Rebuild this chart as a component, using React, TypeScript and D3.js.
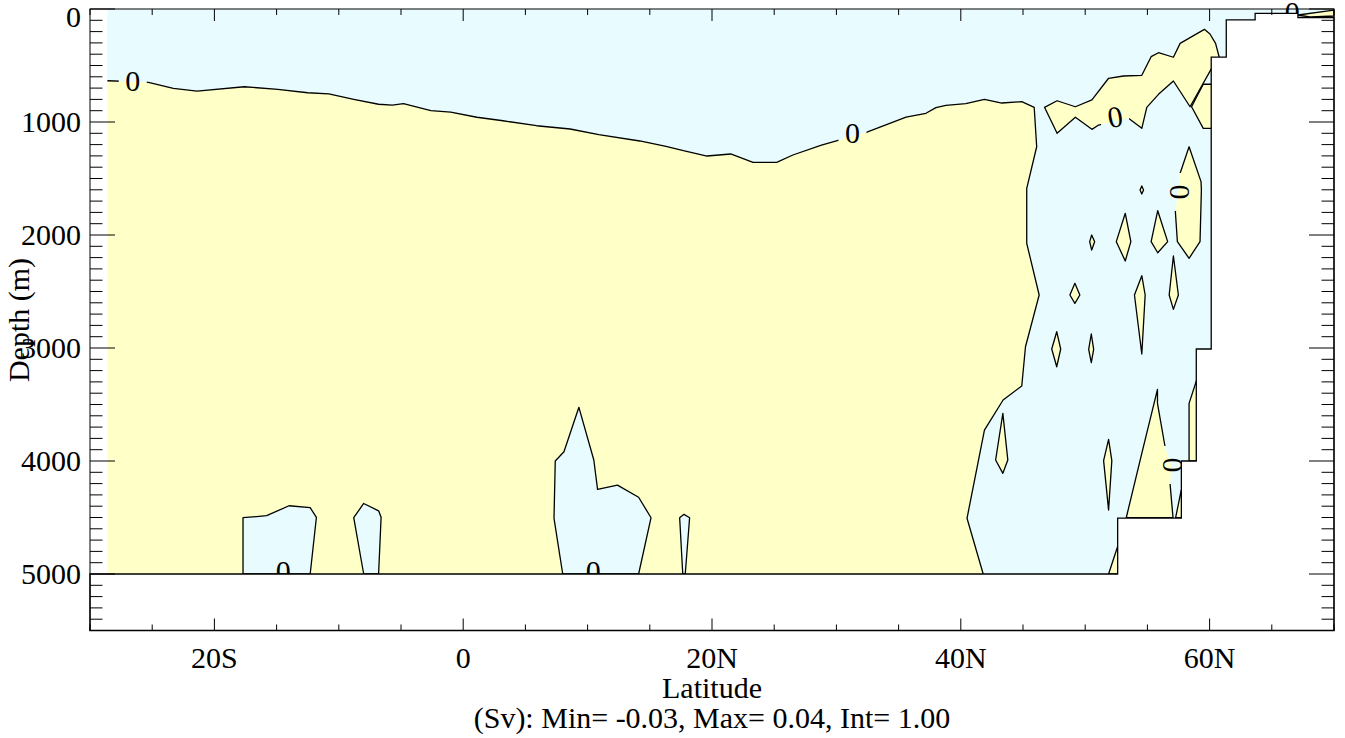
import React from "react";
import * as d3 from "d3";

type Pt = [number, number]; // [latitude, depth]

const latTicks = [-20, 0, 20, 40, 60];
const latTickLabels = ["20S", "0", "20N", "40N", "60N"];
const depthTicks = [0, 1000, 2000, 3000, 4000, 5000];
const xTitle = "Latitude";
const yTitle = "Depth (m)";
const subTitle = "(Sv): Min= -0.03, Max= 0.04, Int= 1.00";

const gridWest = -28.6;
const floorDepth = 5000;

// zero contour bounding the negative (blue) surface + northern cell
const zeroContour: Pt[] = [
  [-28.6, 635], [-26.5, 643], [-25.3, 649], [-23.3, 702], [-21.4, 726], [-17.6, 688],
  [-14.9, 711], [-12.5, 741], [-10.8, 752], [-8.8, 799], [-6.8, 843], [-5.7, 850],
  [-4.8, 838], [-2.6, 900], [-1.0, 912], [1.1, 958], [3.2, 989], [5.9, 1033],
  [8.6, 1062], [10.9, 1112], [14.2, 1168], [16.3, 1215], [17.7, 1254], [19.6, 1301],
  [21.5, 1283], [23.3, 1357], [25.2, 1357], [26.5, 1292], [28.8, 1204], [32.4, 1091],
  [35.6, 956], [37.2, 923], [38.0, 873], [38.8, 852], [40.4, 838], [41.9, 799],
  [43.3, 832], [44.9, 820], [45.9, 870], [46.1, 1219], [45.3, 1587], [45.3, 2074],
  [46.3, 2531], [45.2, 2989], [44.9, 3336], [43.4, 3460], [41.9, 3726], [40.5, 4507],
  [41.8, 5000],
];

// positive (yellow) patches inside the northern negative cell
const yellowIslands: Pt[][] = [
  [
    [46.73, 870], [47.74, 812], [49.21, 865], [50.54, 805], [51.88, 613], [53.08, 593],
    [54.55, 587], [55.3, 422], [55.89, 387], [57.09, 427], [57.63, 304], [59.58, 180],
    [60.03, 221], [60.48, 304], [60.77, 425], [60.16, 525], [58.43, 865], [57.09, 637],
    [55.89, 755], [54.95, 870], [54.55, 1056], [53.48, 967], [51.08, 1027], [50.54, 1065],
    [49.21, 958], [47.74, 1100],
  ],
  [[58.55, 865], [59.49, 666], [60.2, 666], [60.2, 1056], [59.49, 1056]],
  [[47.71, 2856], [48.03, 3009], [47.71, 3166], [47.31, 3009]],
  [[50.52, 2000], [50.76, 2059], [50.52, 2133], [50.36, 2059]],
  [[53.22, 1808], [53.67, 2059], [53.22, 2230], [52.5, 2059]],
  [[55.83, 1785], [56.63, 2059], [55.83, 2157], [55.3, 2059]],
  [[54.55, 1566], [54.69, 1602], [54.55, 1637], [54.41, 1602]],
  [
    [58.35, 1219], [59.31, 1528], [59.34, 1602], [59.23, 2059], [58.35, 2206],
    [57.41, 2059], [57.25, 1797], [57.49, 1602], [57.63, 1454],
  ],
  [[49.17, 2428], [49.57, 2531], [49.17, 2605], [48.77, 2531]],
  [[54.55, 2360], [54.82, 2531], [54.55, 3053], [53.96, 2531]],
  [[57.09, 2186], [57.49, 2531], [57.09, 2658], [56.75, 2531]],
  [[50.49, 2876], [50.68, 3012], [50.49, 3130], [50.28, 3012]],
  [[43.38, 3578], [43.78, 3991], [43.38, 4109], [42.8, 3991]],
  [[51.88, 3808], [52.14, 3997], [51.88, 4434], [51.48, 3997]],
  [
    [55.81, 3366], [55.81, 3490], [56.42, 3874], [56.91, 4042], [56.83, 4213],
    [57.06, 4502], [53.3, 4502], [54.55, 3932],
  ],
  [[58.96, 3283], [58.35, 3490], [58.35, 4000], [59.2, 4000]],
  [[57.72, 4257], [57.27, 4502], [57.8, 4502]],
  [[51.88, 5000], [52.6, 4759], [52.7, 5000]],
  [[67.11, 53], [69.84, 13], [70, 13], [70, 62], [68.16, 71]],
];

// negative (blue) pockets on the southern floor
const bluePockets: Pt[][] = [
  [[-17.7, 5000], [-17.7, 4502], [-15.8, 4484], [-14.0, 4396], [-12.3, 4413], [-11.8, 4498], [-12.3, 5000]],
  [[-8.0, 5000], [-8.8, 4502], [-8.0, 4376], [-6.8, 4441], [-6.6, 4498], [-6.8, 5000]],
  [
    [8.0, 5000], [7.3, 4507], [7.4, 4000], [8.1, 3918], [9.3, 3525], [10.5, 3991],
    [10.8, 4251], [12.4, 4213], [14.1, 4321], [15.1, 4502], [14.1, 5000],
  ],
  [[17.65, 5000], [17.4, 4502], [17.75, 4472], [18.2, 4502], [17.85, 5000]],
];

// land mask (model bottom)
const bathymetry: Pt[] = [
  [70, 75], [67.1, 75], [67.1, 38], [63.66, 38], [63.66, 97], [61.34, 97],
  [61.34, 425], [60.13, 425], [60.13, 3009], [58.93, 3009], [58.93, 4000],
  [57.73, 4000], [57.73, 4505], [52.61, 4505], [52.61, 5000], [-30, 5000],
  [-30, 5500], [70, 5500],
];

const contourLabels = [
  { lat: -26.56, depth: 637, rot: 0, gap: true },
  { lat: 31.29, depth: 1097, rot: 0, gap: true },
  { lat: 52.4, depth: 956, rot: -10, gap: true },
  { lat: 57.66, depth: 1619, rot: 90, gap: true },
  { lat: 57.06, depth: 4035, rot: 90, gap: true },
  { lat: -14.46, depth: 4973, rot: 0, gap: false },
  { lat: 10.46, depth: 4973, rot: 0, gap: false },
];
const cornerLabel = { lat: 66.64, depth: 22 };

const BLUE = "#e8fcff";
const YELLOW = "#ffffc8";
const FONT = "'Liberation Serif', 'Times New Roman', serif";

const App: React.FC = () => {
  const width = 1345;
  const height = 738;
  const x = d3.scaleLinear().domain([-30, 70]).range([90, 1334]);
  const y = d3.scaleLinear().domain([0, 5500]).range([9, 630.5]);

  const line = d3
    .line<Pt>()
    .x((d) => x(d[0]))
    .y((d) => y(d[1]));
  const poly = (pts: Pt[]) => (line(pts) || "") + "Z";

  const bluePath = poly([...zeroContour, [70, floorDepth], [70, 0], [gridWest, 0]]);

  const minorLat = d3.range(-30, 71, 5);
  const minorDepth = d3.range(0, 5501, 100);
  const [x0, x1] = x.range();
  const [y0, y1] = y.range();
  const fs = 30;

  return (
    <svg
      width={width}
      height={height}
      style={{ position: "absolute", left: 0, top: 0, background: "white" }}
      fontFamily={FONT}
    >
      <defs>
        <mask id="labelGaps" maskUnits="userSpaceOnUse" x={0} y={0} width={width} height={height}>
          <rect x={0} y={0} width={width} height={height} fill="white" />
          {contourLabels
            .filter((l) => l.gap)
            .map((l, i) => {
              const vertical = Math.abs(l.rot) > 45;
              const w = vertical ? 20 : 28;
              const h = vertical ? 38 : 24;
              return (
                <rect key={i} x={x(l.lat) - w / 2} y={y(l.depth) - h / 2} width={w} height={h} fill="black" />
              );
            })}
        </mask>
        <clipPath id="cornerClip">
          <rect x={0} y={0} width={width} height={y(38)} />
        </clipPath>
      </defs>

      {/* fills */}
      <rect
        x={x(gridWest)}
        y={y(0)}
        width={x(70) - x(gridWest)}
        height={y(floorDepth) - y(0)}
        fill={YELLOW}
      />
      <path d={bluePath} fill={BLUE} />
      {yellowIslands.map((p, i) => (
        <path key={`yi${i}`} d={poly(p)} fill={YELLOW} />
      ))}
      {bluePockets.map((p, i) => (
        <path key={`bp${i}`} d={poly(p)} fill={BLUE} />
      ))}

      {/* contour lines */}
      <g mask="url(#labelGaps)" fill="none" stroke="black" strokeWidth={1.3} strokeLinejoin="round">
        <path d={line(zeroContour) || ""} />
        {yellowIslands.map((p, i) => (
          <path key={`yl${i}`} d={poly(p)} />
        ))}
        {bluePockets.map((p, i) => (
          <path key={`bl${i}`} d={poly(p)} />
        ))}
      </g>

      {contourLabels.map((l, i) => (
        <text
          key={`cl${i}`}
          x={x(l.lat)}
          y={y(l.depth)}
          dy="0.34em"
          fontSize={fs}
          textAnchor="middle"
          transform={`rotate(${l.rot},${x(l.lat)},${y(l.depth)})`}
        >
          0
        </text>
      ))}

      {/* land */}
      <path d={poly(bathymetry)} fill="white" stroke="black" strokeWidth={1.3} />

      {/* frame */}
      <rect x={x0} y={y0} width={x1 - x0} height={y1 - y0} fill="none" stroke="black" strokeWidth={1} />
      <g stroke="black" strokeWidth={1}>
        {minorLat.map((d) => {
          const len = d % 20 === 0 ? 12 : 6;
          return (
            <g key={`xt${d}`}>
              <line x1={x(d)} x2={x(d)} y1={y1} y2={y1 - len} />
              <line x1={x(d)} x2={x(d)} y1={y0} y2={y0 + len} />
            </g>
          );
        })}
        {minorDepth.map((d) => {
          const len = d % 1000 === 0 ? 25 : 12.5;
          return (
            <g key={`yt${d}`}>
              <line x1={x0} x2={x0 + len} y1={y(d)} y2={y(d)} />
              <line x1={x1} x2={x1 - len} y1={y(d)} y2={y(d)} />
            </g>
          );
        })}
      </g>

      <text
        x={x(cornerLabel.lat)}
        y={y(cornerLabel.depth)}
        dy="0.34em"
        fontSize={fs}
        textAnchor="middle"
        clipPath="url(#cornerClip)"
      >
        0
      </text>

      {/* tick labels */}
      {latTicks.map((d, i) => (
        <text key={`xl${d}`} x={x(d)} y={668} fontSize={fs} textAnchor="middle">
          {latTickLabels[i]}
        </text>
      ))}
      {depthTicks.map((d) => (
        <text key={`yl${d}`} x={81} y={Math.max(y(d), 17) + 10} fontSize={fs} textAnchor="end">
          {d}
        </text>
      ))}

      <text x={(x0 + x1) / 2} y={698} fontSize={fs} textAnchor="middle">
        {xTitle}
      </text>
      <text x={(x0 + x1) / 2} y={728} fontSize={fs} textAnchor="middle">
        {subTitle}
      </text>
      <text x={29} y={320} fontSize={fs} textAnchor="middle" transform="rotate(-90,29,320)">
        {yTitle}
      </text>
    </svg>
  );
};

export default App;
